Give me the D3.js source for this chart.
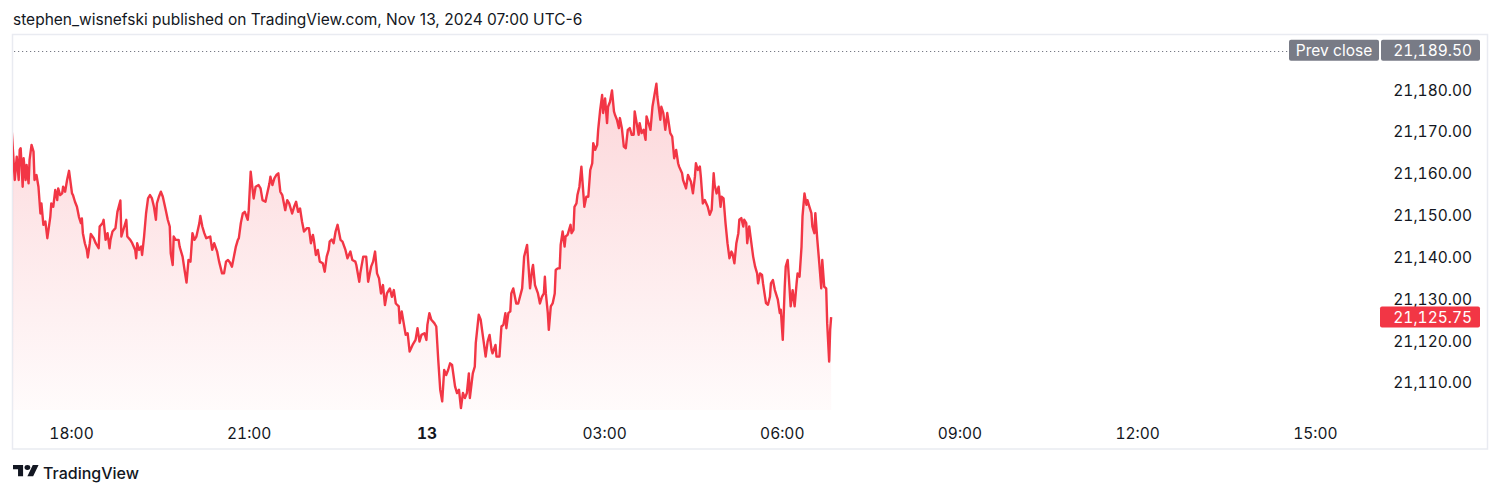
<!DOCTYPE html>
<html><head><meta charset="utf-8">
<script src="https://cdn.jsdelivr.net/npm/d3@7"></script>
<style>
html,body{margin:0;padding:0;background:#fff;}
svg{display:block;font-family:Inter,"Noto Sans",sans-serif;}
.num{font-feature-settings:"tnum";}
</style>
</head><body>
<svg id="chart" width="1500" height="495"></svg>
<script>
// ---- data ----
const titleText = "stephen_wisnefski published on TradingView.com, Nov 13, 2024 07:00 UTC-6";
const sessionStart = new Date(2024, 10, 12, 17, 0);   // Nov 12, 17:00 (UTC-6)
const viewEnd = new Date(2024, 10, 13, 16, 6);
// [minutes since session start, price]
const priceSeries = [
[0,21170],[3,21158.5],[5,21164.1],[7,21158.5],[8,21165.7],[9,21166.1],[11,21156.9],[12,21163.7],[14,21158.5],[15,21162.1],[17,21157.7],[18,21163.3],[20,21166.9],[22,21165.3],[23,21158.5],[25,21159.7],[27,21156.9],[29,21150.5],[30,21152.9],[32,21147.8],[34,21148.6],[36,21144.6],[39,21149.7],[40,21152.9],[42,21152.1],[44,21156.1],[46,21153.7],[47,21156.5],[49,21154.9],[51,21155.3],[52,21156.9],[54,21155.7],[56,21158.5],[58,21160.7],[61,21155.3],[62,21154.9],[64,21153.3],[66,21152.1],[68,21149.7],[70,21148.2],[71,21149.3],[72,21145.8],[74,21143.4],[76,21141.8],[77,21140.0],[79,21143.4],[80,21145.6],[83,21144.6],[85,21143.4],[88,21142.2],[89,21147.4],[92,21148.2],[93,21149.0],[95,21144.2],[97,21145.8],[99,21142.2],[100,21144.2],[102,21146.2],[105,21147.0],[107,21150.9],[110,21153.6],[111,21145.0],[114,21147.4],[116,21149.0],[117,21145.0],[120,21144.2],[122,21143.4],[125,21141.8],[126,21139.8],[127,21143.4],[129,21141.8],[131,21142.6],[132,21140.6],[134,21145.0],[136,21150.5],[138,21154.1],[140,21154.9],[142,21154.1],[144,21152.1],[146,21149.0],[147,21152.9],[149,21154.5],[151,21155.7],[153,21154.5],[156,21151.3],[158,21149.0],[160,21147.4],[161,21141.0],[163,21138.2],[164,21145.0],[166,21144.2],[169,21144.2],[170,21142.6],[173,21140.2],[175,21137.0],[177,21134.0],[179,21139.4],[181,21139.0],[183,21145.8],[185,21144.2],[187,21145.0],[190,21148.2],[191,21149.9],[193,21147.4],[195,21145.8],[197,21144.6],[201,21145.0],[203,21141.8],[205,21143.4],[208,21141.4],[210,21139.0],[213,21136.2],[215,21136.2],[217,21139.0],[219,21139.4],[221,21138.8],[223,21137.8],[225,21140.2],[227,21142.6],[229,21144.2],[230,21144.6],[232,21148.2],[234,21150.5],[236,21150.9],[239,21149.0],[240,21151.3],[242,21160.5],[244,21156.1],[245,21154.1],[247,21156.9],[250,21157.3],[252,21156.5],[254,21153.7],[257,21153.3],[258,21154.5],[261,21157.7],[262,21159.3],[264,21157.3],[266,21158.9],[268,21159.7],
[270,21160.1],[272,21155.7],[274,21154.9],[277,21151.3],[279,21153.7],[281,21152.9],[284,21150.5],[286,21152.1],[288,21153.3],[290,21150.9],[292,21151.7],[294,21148.6],[296,21146.2],[299,21147.0],[301,21147.0],[303,21143.4],[305,21145.4],[306,21144.2],[308,21140.6],[310,21141.8],[312,21139.0],[315,21138.6],[317,21136.6],[319,21140.2],[321,21141.8],[322,21143.8],[324,21144.3],[326,21143.4],[328,21146.2],[330,21147.8],[333,21144.2],[335,21143.8],[338,21141.8],[340,21139.8],[343,21141.4],[345,21139.4],[348,21139.0],[349,21138.2],[352,21134.2],[353,21136.2],[356,21140.2],[359,21140.2],[361,21134.2],[364,21137.8],[366,21139.0],[368,21141.4],[370,21136.2],[372,21135.0],[374,21131.4],[376,21133.4],[378,21128.6],[380,21131.4],[383,21132.6],[385,21130.6],[387,21132.2],[389,21129.0],[392,21128.3],[393,21124.3],[395,21127.1],[397,21124.3],[399,21121.5],[401,21121.9],[403,21117.5],[406,21119.1],[409,21120.3],[411,21123.1],[413,21119.9],[415,21121.5],[418,21121.9],[420,21120.3],[421,21123.9],[423,21126.7],[425,21125.1],[428,21124.3],[430,21123.5],[432,21115.5],[434,21108.4],[436,21105.6],[438,21113.1],[440,21111.9],[442,21113.1],[444,21114.7],[446,21114.3],[449,21109.2],[451,21107.6],[453,21108.4],[455,21104.0],[457,21107.6],[459,21106.4],[461,21107.6],[463,21112.3],[464,21106.4],[467,21112.3],[469,21113.9],[470,21119.5],[473,21126.3],[475,21125.1],[478,21119.9],[480,21116.3],[482,21119.9],[484,21121.5],[486,21117.9],[487,21117.1],[490,21119.1],[491,21116.3],[494,21116.3],[496,21123.5],[498,21123.9],[500,21126.7],[501,21123.1],[503,21126.7],[505,21127.1],[506,21131.4],[508,21132.6],[511,21129.0],[513,21129.0],[514,21129.9],[517,21132.6],[519,21140.2],[522,21143.0],[523,21139.4],[525,21132.6],[527,21137.0],[528,21138.2],[530,21133.4],[533,21131.4],[535,21129.0],
[537,21130.6],[539,21131.4],[540,21135.4],[541,21131.4],[543,21126.7],[544,21122.7],[546,21128.3],[548,21129.1],[550,21131.4],[551,21137.0],[553,21137.4],[555,21137.4],[556,21143.0],[558,21146.2],[560,21142.6],[561,21145.0],[563,21145.4],[566,21147.8],[567,21145.8],[569,21146.6],[570,21152.1],[572,21152.9],[573,21154.9],[575,21156.9],[577,21161.7],[578,21158.5],[580,21152.1],[582,21154.5],[584,21154.5],[586,21160.9],[588,21162.5],[589,21167.3],[591,21165.7],[593,21166.9],[594,21170.5],[596,21175.2],[598,21178.8],[599,21174.5],[601,21178.0],[603,21172.1],[604,21176.0],[606,21177.2],[608,21179.9],[610,21174.9],[611,21174.1],[613,21172.9],[615,21170.9],[616,21173.3],[618,21170.9],[620,21166.5],[622,21166.1],[624,21170.5],[626,21170.9],[628,21169.3],[630,21169.3],[631,21174.9],[633,21172.1],[635,21169.3],[636,21172.1],[638,21169.7],[640,21170.5],[642,21168.1],[643,21173.7],[645,21172.1],[647,21170.5],[649,21176.0],[651,21178.8],[653,21181.5],[654,21178.4],[657,21172.9],[658,21176.0],[660,21174.5],[662,21170.5],[664,21174.5],[665,21172.9],[667,21169.7],[669,21168.9],[671,21163.7],[673,21165.7],[675,21162.5],[676,21161.7],[679,21160.1],[680,21158.5],[683,21156.5],[685,21159.7],[688,21158.1],[690,21155.3],[692,21159.3],[693,21162.5],[695,21160.9],[697,21161.7],[698,21159.3],[700,21152.9],[702,21153.7],[705,21152.1],[707,21150.2],[709,21151.4],[711,21160.1],[712,21157.3],[714,21155.3],[716,21156.9],[718,21152.1],[719,21154.5],[721,21154.1],[723,21148.2],[725,21143.4],[727,21139.8],[729,21141.4],[730,21141.0],[732,21138.6],[734,21143.4],[736,21145.8],[737,21149.0],[739,21149.4],[741,21147.4],[742,21149.0],[744,21148.2],[745,21143.4],[747,21147.4],[749,21143.8],[751,21140.2],[753,21137.8],[755,21136.2],[756,21133.8],[758,21136.2],[760,21135.8],[761,21133.8],[764,21129.1],[766,21128.7],[768,21130.6],[769,21133.8],[771,21134.6],[773,21132.2],[776,21129.9],[778,21126.7],[779,21127.5],[781,21120.3],[783,21133.0],[784,21137.8],[786,21139.4],[788,21132.2],[789,21128.3],[791,21132.2],[793,21128.3],[795,21133.8],[796,21136.2],[798,21135.4],[800,21142.6],[801,21149.8],[803,21155.3],[805,21152.6],[806,21153.7],[808,21152.1],[810,21150.6],[811,21147.4],[813,21145.8],[814,21150.6],[816,21144.2],[818,21138.6],[820,21132.6],[821,21139.4],[823,21133.0],[825,21132.6],[826,21124.3],[828,21115.1],[829,21122.7],[830,21125.75]
];
const priceTicks = [21110, 21120, 21130, 21140, 21150, 21160, 21170, 21180];
const timeTickHours = [18, 21, 24, 27, 30, 33, 36, 39];   // hours after Nov 12 00:00
const timeTickLabels = ["18:00", "21:00", "13", "03:00", "06:00", "09:00", "12:00", "15:00"];
const prevClose = 21189.50;
const lastPrice = 21125.75;
const priceDomain = [21103.55, 21193.15];

// ---- layout ----
const W = 1500, H = 495;
const frame = {x0: 12, y0: 35, x1: 1487, y1: 449};
const pane = {x0: 12, x1: 1380, y0: 35, y1: 410};
const red = "#f23645", ink = "#131722", grey = "#787b86";
const FONT = 'Inter,"Noto Sans",sans-serif';

const svg = d3.select("#chart");
svg.append("rect").attr("width", W).attr("height", H).attr("fill", "#fff");

const x = d3.scaleTime().domain([sessionStart, viewEnd]).range([11.8, 1380]);
const y = d3.scaleLinear().domain(priceDomain).range([pane.y1, pane.y0]);

const data = priceSeries.map(([m, p]) => ({t: new Date(sessionStart.getTime() + m * 60000), p}));

// title
svg.append("text").attr("x", 13).attr("y", 25).attr("font-size", 15.5).attr("fill", ink)
  .text(titleText);

// frame
svg.append("rect").attr("x", frame.x0 + 0.5).attr("y", frame.y0 - 0.5)
  .attr("width", frame.x1 - frame.x0).attr("height", frame.y1 - frame.y0 + 0.5)
  .attr("fill", "none").attr("stroke", "#e9ebf1").attr("stroke-width", 1.5);

const defs = svg.append("defs");
defs.append("clipPath").attr("id", "pane").append("rect")
  .attr("x", pane.x0 + 1).attr("y", pane.y0).attr("width", pane.x1 - pane.x0).attr("height", pane.y1 - pane.y0);
const grad = defs.append("linearGradient").attr("id", "fillGrad")
  .attr("gradientUnits", "userSpaceOnUse")
  .attr("x1", 0).attr("x2", 0).attr("y1", y(d3.max(priceSeries, d => d[1]))).attr("y2", pane.y1);
grad.append("stop").attr("offset", 0).attr("stop-color", red).attr("stop-opacity", 0.2);
grad.append("stop").attr("offset", 1).attr("stop-color", red).attr("stop-opacity", 0.02);

const g = svg.append("g").attr("clip-path", "url(#pane)");
g.append("path").datum(data)
  .attr("d", d3.area().x(d => x(d.t)).y0(pane.y1).y1(d => y(d.p)))
  .attr("fill", "url(#fillGrad)");
g.append("path").datum(data)
  .attr("d", d3.line().x(d => x(d.t)).y(d => y(d.p)))
  .attr("fill", "none").attr("stroke", red).attr("stroke-width", 2.4).attr("stroke-linejoin", "round");

// prev close dotted line
svg.append("line").attr("x1", 14).attr("x2", 1288)
  .attr("y1", Math.round(y(prevClose)) + 1.5).attr("y2", Math.round(y(prevClose)) + 1.5)
  .attr("stroke", "#787b86").attr("stroke-width", 1.2).attr("stroke-dasharray", "1.2 2.8");

// y axis
const yAxis = d3.axisRight(y).tickValues(priceTicks).tickSize(0).tickFormat(d3.format(",.2f"));
const ya = svg.append("g").attr("transform", "translate(1472,0)").call(yAxis);
ya.select(".domain").remove();
ya.selectAll("text").attr("x", 0).attr("text-anchor", "end").attr("fill", ink).attr("class", "num")
  .style("font-family", FONT).style("font-size", "15.5px");

// prev close label
const pcY = y(prevClose);
svg.append("rect").attr("x", 1289).attr("y", pcY - 10.5).attr("width", 90).attr("height", 21)
  .attr("rx", 2).attr("fill", grey);
svg.append("rect").attr("x", 1381).attr("y", pcY - 10.5).attr("width", 99).attr("height", 21)
  .attr("rx", 2).attr("fill", grey);
svg.append("text").attr("x", 1334).attr("y", pcY).attr("dy", "0.36em").attr("text-anchor", "middle")
  .attr("fill", "#fff").attr("font-size", 15.5).text("Prev close");
svg.append("text").attr("x", 1472).attr("y", pcY).attr("dy", "0.36em").attr("text-anchor", "end")
  .attr("class", "num").attr("fill", "#fff").attr("font-size", 15.5)
  .text(d3.format(",.2f")(prevClose));

// last price label
const lpY = y(lastPrice);
svg.append("rect").attr("x", 1380).attr("y", lpY - 10.5).attr("width", 100).attr("height", 21)
  .attr("rx", 2).attr("fill", red);
svg.append("text").attr("x", 1472).attr("y", lpY).attr("dy", "0.36em").attr("text-anchor", "end")
  .attr("class", "num").attr("fill", "#fff").attr("font-size", 15.5)
  .text(d3.format(",.2f")(lastPrice));

// x axis
const tickDates = timeTickHours.map(h => new Date(2024, 10, 12, h, 0));
const xAxis = d3.axisBottom(x).tickValues(tickDates).tickSize(0).tickFormat((d, i) => timeTickLabels[i]);
const xa = svg.append("g").attr("transform", `translate(0,${pane.y1})`).call(xAxis);
xa.select(".domain").remove();
xa.selectAll("text").attr("y", 23).attr("dy", "0.36em").attr("fill", ink).attr("class", "num")
  .style("font-family", FONT).style("font-size", "15.5px")
  .style("font-weight", (d, i) => timeTickLabels[i].includes(":") ? 400 : 700);

// TradingView logo
const logo = svg.append("g").attr("transform", "translate(13,462.5) scale(0.72,0.62)").attr("fill", ink);
logo.append("path").attr("d", "M14 22H7V11H0V4h14v18ZM28 22h-8l7.5-18h8L28 22Z");
logo.append("circle").attr("cx", 20).attr("cy", 8).attr("r", 4);
svg.append("text").attr("x", 43).attr("y", 478.5).attr("font-size", 16).attr("font-weight", 500)
  .attr("fill", ink).text("TradingView");
</script>
</body></html>
